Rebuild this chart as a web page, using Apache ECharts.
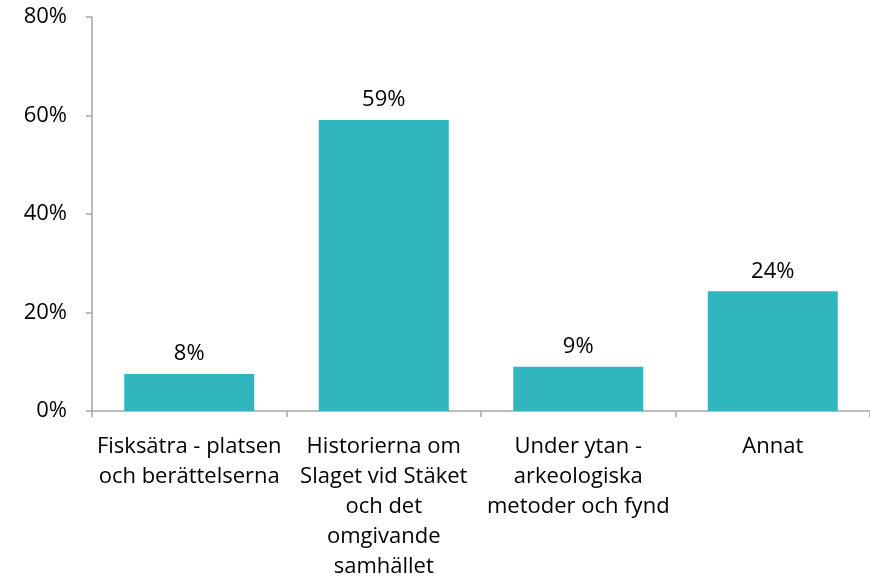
<!DOCTYPE html>
<html><head><meta charset="utf-8">
<script src="https://cdn.jsdelivr.net/npm/echarts@6/dist/echarts.min.js"></script>
<style>html,body{margin:0;padding:0;background:#fff}#c{width:870px;height:582px}</style>
</head><body><div id="c"></div>
<script>
var categories = ["Fisksätra - platsen\noch berättelserna", "Historierna om\nSlaget vid Stäket\noch det\nomgivande\nsamhället", "Under ytan -\narkeologiska\nmetoder och fynd", "Annat"];
var values = [7.5, 59.1, 9.0, 24.3];
var yTicks = [0, 20, 40, 60, 80];
var FONT = "Open Sans";
var chart = echarts.init(document.getElementById('c'));
chart.setOption({
  animation: false,
  grid: {left: 92, right: -2, top: 17, bottom: 171, containLabel: false},
  xAxis: {
    type: 'category', data: categories,
    axisLine: {lineStyle: {color: '#a6a6a6', width: 1.5}},
    axisTick: {show: true, length: 6, lineStyle: {color: '#a6a6a6', width: 1.5}},
    axisLabel: {color: '#000', fontFamily: FONT, fontSize: 22, lineHeight: 30, margin: 21, interval: 0}
  },
  yAxis: {
    type: 'value', min: yTicks[0], max: yTicks[yTicks.length-1], interval: 20,
    splitLine: {show: false},
    axisLine: {show: true, lineStyle: {color: '#a6a6a6', width: 1.5}},
    axisTick: {show: true, length: 6, lineStyle: {color: '#a6a6a6', width: 1.5}},
    axisLabel: {color: '#000', fontFamily: FONT, fontSize: 22, margin: 25, formatter: function(v){return v + '%';}}
  },
  series: [{
    type: 'bar', data: values, barWidth: 130,
    itemStyle: {color: '#31b6c0'},
    label: {show: true, position: 'top', distance: 9, color: '#000', fontFamily: FONT, fontSize: 22,
      formatter: function(p){return Math.round(p.value) + '%';}}
  }]
});
</script></body></html>
